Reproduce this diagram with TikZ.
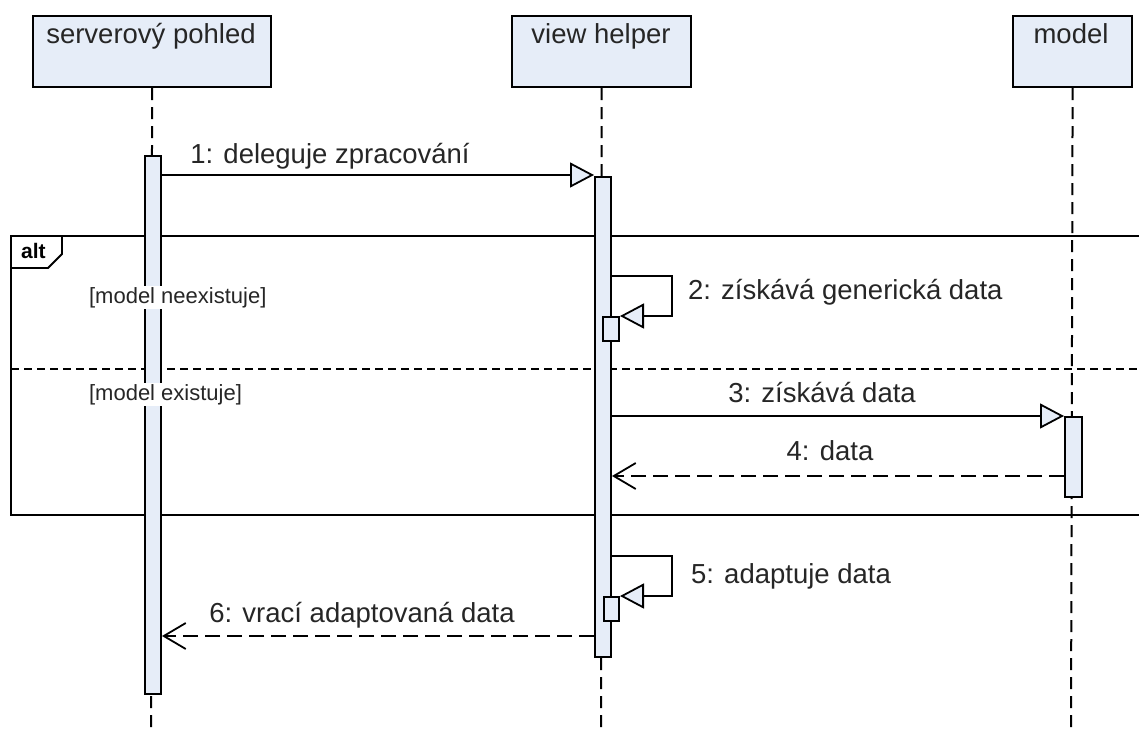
\documentclass[tikz,border=0pt]{standalone}
\usepackage{fontspec}
\setmainfont{Liberation Sans}
\usetikzlibrary{arrows.meta}
\definecolor{boxfill}{RGB}{230,237,248}

\begin{document}
\begin{tikzpicture}[x=1pt, y=-1pt, line width=2.2pt,
  headbox/.style={draw, fill=boxfill, inner sep=0pt, anchor=north west},
  lifeline/.style={dash pattern=on 12pt off 7pt, line width=2pt},
  actbar/.style={draw, fill=boxfill, inner sep=0pt, anchor=north west, line width=2pt},
  syncmsg/.style={line width=2pt, -{Triangle[length=24pt, width=25pt, fill=boxfill, line width=1.8pt]}},
  replymsg/.style={line width=2pt, dash pattern=on 15pt off 7pt, -{Straight Barb[length=22pt, width=26pt, line width=1.8pt]}},
  lbl/.style={font=\fontsize{27.5}{32}\selectfont, inner sep=0pt, text=black!85},
  guard/.style={font=\fontsize{22}{26}\selectfont, inner sep=1pt, fill=white, anchor=base west, text=black!85},
  frametag/.style={font=\bfseries\fontsize{21}{25}\selectfont, inner sep=0pt, anchor=base west}]

\useasboundingbox (0,0) rectangle (1139,731);
\clip (0,0) rectangle (1139,731);

% lifeline heads
\node[headbox, minimum width=238pt, minimum height=71pt] (sp) at (32,15) {};
\node[headbox, minimum width=179pt, minimum height=71pt] (vh) at (511,15) {};
\node[headbox, minimum width=119pt, minimum height=71pt] (md) at (1012,15) {};
\node[lbl, anchor=base] (spt) at (151,43) {serverový pohled};
\node[lbl, anchor=base] (vht) at (601,43) {view helper};
\node[lbl, anchor=base] (mdt) at (1071,43) {model};

% lifelines
\coordinate (endsp) at (151,735);
\coordinate (endvh) at (601,735);
\coordinate (endmd) at (1071,735);
\draw[lifeline] (sp.south) -- (endsp);
\draw[lifeline] (vh.south) -- (endvh);
\draw[lifeline] (md.south) -- (endmd);

% combined fragment "alt"
\coordinate (fTL) at (11,236);
\coordinate (fTR) at (1145,236);
\coordinate (fBL) at (11,515);
\coordinate (fBR) at (1145,515);
\coordinate (sepL) at (11,369);
\coordinate (sepR) at (1145,369);
\draw (fTR) -- (fTL) -- (fBL) -- (fBR);
\draw[dash pattern=on 8pt off 5pt, line width=1.7pt] (sepL) -- (sepR);
\coordinate (tabA) at (11,268);
\coordinate (tabB) at (48,268);
\coordinate (tabC) at (62,254);
\coordinate (tabD) at (62,236);
\draw[line width=1.8pt] (tabA) -- (tabB) -- (tabC) -- (tabD);
\node[frametag] (alt) at (20,258) {alt};

% activation bars
\node[actbar, minimum width=16pt, minimum height=538pt] (a1) at (144,155) {};
\node[actbar, minimum width=16pt, minimum height=480pt] (a2) at (594,176) {};
\node[actbar, minimum width=17pt, minimum height=80pt] (a3) at (1064,416) {};

% guards
\node[guard] (g1) at (87,303) {[model neexistuje]};
\node[guard] (g2) at (87,400) {[model existuje]};

% 1: delegation
\coordinate (y1) at (0,175);
\draw[syncmsg] (a1.east |- y1) -- (a2.west |- y1);
\node[lbl, anchor=base] (l1) at (330,163) {1: deleguje zpracování};

% 2: self call
\node[actbar, minimum width=16pt, minimum height=24pt] (n2) at (602,316) {};
\coordinate (y2) at (0,276);
\coordinate (c2a) at (672,276);
\coordinate (c2b) at (672,316);
\draw[syncmsg] (a2.east |- y2) -- (c2a) -- (c2b) -- (n2.north east);
\node[lbl, anchor=base west] (l2) at (687,299) {2: získává generická data};

% 3: call to model
\coordinate (y3) at (0,416);
\draw[syncmsg] (a2.east |- y3) -- (a3.north west);
\node[lbl, anchor=base] (l3) at (822,402) {3: získává data};

% 4: reply from model
\coordinate (y4) at (0,476);
\draw[replymsg] (a3.west |- y4) -- (a2.east |- y4);
\node[lbl, anchor=base] (l4) at (830,460) {4: data};

% 5: self call
\node[actbar, minimum width=15pt, minimum height=24pt] (n5) at (603,596) {};
\coordinate (y5) at (0,556);
\coordinate (c5a) at (672,556);
\coordinate (c5b) at (672,596);
\draw[syncmsg] (a2.east |- y5) -- (c5a) -- (c5b) -- (n5.north east);
\node[lbl, anchor=base west] (l5) at (690,583) {5: adaptuje data};

% 6: reply to the server view
\coordinate (y6) at (0,636);
\draw[replymsg] (a2.west |- y6) -- (a1.east |- y6);
\node[lbl, anchor=base] (l6) at (362,622) {6: vrací adaptovaná data};

\end{tikzpicture}
\end{document}
